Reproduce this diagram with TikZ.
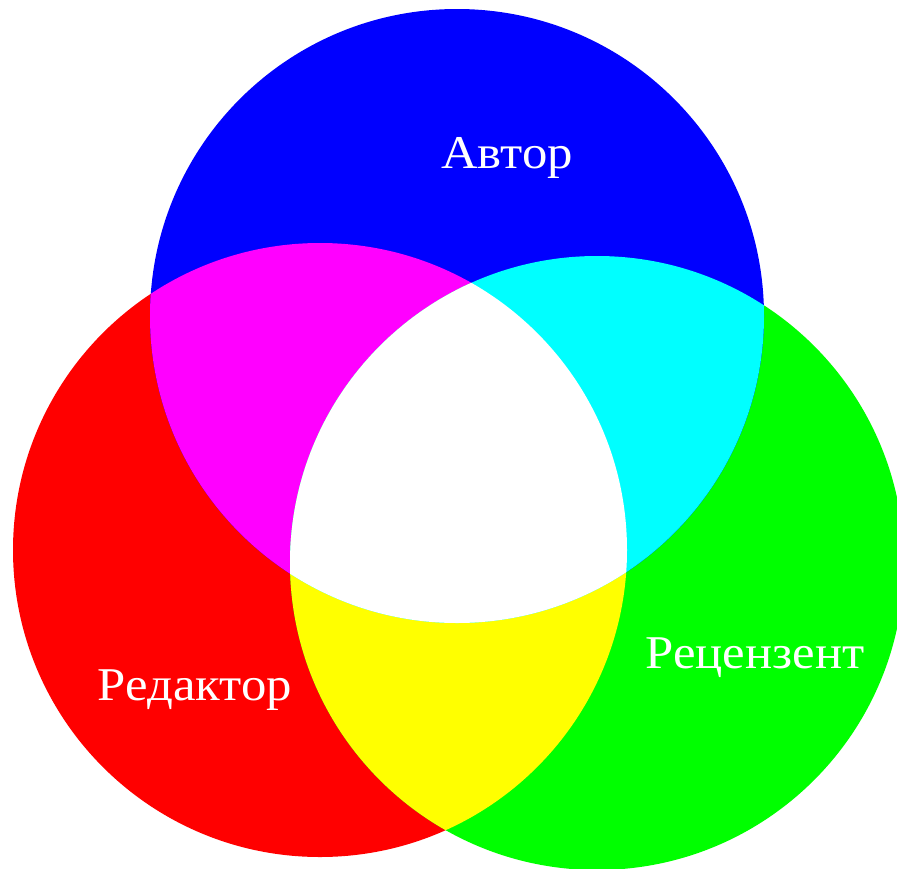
\documentclass[tikz,border=0pt]{standalone}
\usepackage{fontspec}
\setmainfont{Liberation Serif}[FakeStretch=1.08]
\definecolor{pred}{rgb}{1,0,0}
\definecolor{pgreen}{rgb}{0,1,0}
\definecolor{pblue}{rgb}{0,0,1}
\definecolor{pmagenta}{rgb}{1,0,1}
\definecolor{pyellow}{rgb}{1,1,0}
\definecolor{pcyan}{rgb}{0,1,1}
\begin{document}
\begin{tikzpicture}[x=1pt,y=-1pt,
  lbl/.style={text=white,anchor=base,inner sep=0pt,font=\fontsize{47}{56}\selectfont}]
\useasboundingbox (0,0) rectangle (897,868);
\def\rad{307pt}
\coordinate (cb) at (457,316);
\coordinate (cr) at (320,550);
\coordinate (cg) at (597,563);
\fill[pred]   (cr) circle[radius=\rad];
\fill[pgreen] (cg) circle[radius=\rad];
\fill[pblue]  (cb) circle[radius=\rad];
\begin{scope}
  \clip (cr) circle[radius=\rad];
  \fill[pmagenta] (cb) circle[radius=\rad];
  \fill[pyellow]  (cg) circle[radius=\rad];
\end{scope}
\begin{scope}
  \clip (cb) circle[radius=\rad];
  \fill[pcyan] (cg) circle[radius=\rad];
\end{scope}
\begin{scope}
  \clip (cr) circle[radius=\rad];
  \clip (cb) circle[radius=\rad];
  \fill[white] (cg) circle[radius=\rad];
\end{scope}
\node[lbl] (author) at (507,168) {Автор};
\node[lbl] (editor) at (195,700) {Редактор};
\node[lbl] (reviewer) at (755,668) {Рецензент};
\end{tikzpicture}
\end{document}
